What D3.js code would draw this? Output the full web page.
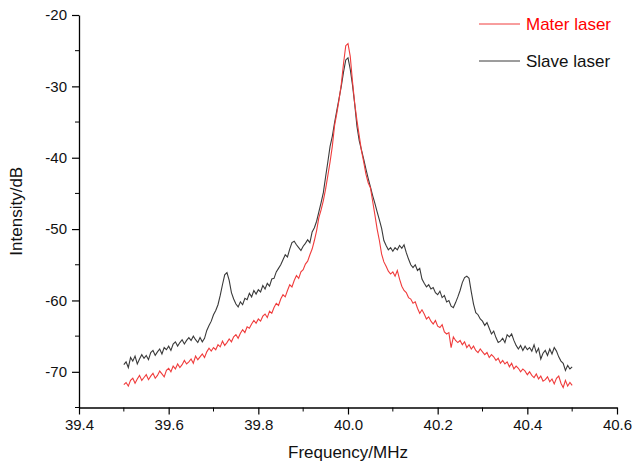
<!DOCTYPE html>
<html>
<head>
<meta charset="utf-8">
<script src="https://cdn.jsdelivr.net/npm/d3@7"></script>
<style>
  body { margin: 0; background: #fff; }
  text { font-family: "Liberation Sans", Arial, sans-serif; }
</style>
</head>
<body>
<div id="chart"></div>
<script>
// frequency grid (MHz)
const freq = [
  39.500, 39.505, 39.510, 39.515, 39.520, 39.525, 39.530, 39.535, 39.540, 39.545,
  39.550, 39.555, 39.560, 39.565, 39.570, 39.575, 39.580, 39.585, 39.590, 39.595,
  39.600, 39.605, 39.610, 39.615, 39.620, 39.625, 39.630, 39.635, 39.640, 39.645,
  39.650, 39.655, 39.660, 39.665, 39.670, 39.675, 39.680, 39.685, 39.690, 39.695,
  39.700, 39.705, 39.710, 39.715, 39.720, 39.725, 39.730, 39.735, 39.740, 39.745,
  39.750, 39.755, 39.760, 39.765, 39.770, 39.775, 39.780, 39.785, 39.790, 39.795,
  39.800, 39.805, 39.810, 39.815, 39.820, 39.825, 39.830, 39.835, 39.840, 39.845,
  39.850, 39.855, 39.860, 39.865, 39.870, 39.875, 39.880, 39.885, 39.890, 39.895,
  39.900, 39.905, 39.910, 39.915, 39.920, 39.925, 39.930, 39.935, 39.940, 39.945,
  39.950, 39.955, 39.960, 39.965, 39.970, 39.975, 39.980, 39.985, 39.990, 39.995,
  40.000,
  40.005, 40.010, 40.015, 40.020, 40.025, 40.030, 40.035, 40.040, 40.045,
  40.050, 40.055, 40.060, 40.065, 40.070, 40.075, 40.080, 40.085, 40.090, 40.095,
  40.100, 40.105, 40.110, 40.115, 40.120, 40.125, 40.130, 40.135, 40.140, 40.145,
  40.150, 40.155, 40.160, 40.165, 40.170, 40.175, 40.180, 40.185, 40.190, 40.195,
  40.200, 40.205, 40.210, 40.215, 40.220, 40.225, 40.230, 40.235, 40.240, 40.245,
  40.250, 40.255, 40.260, 40.265, 40.270, 40.275, 40.280, 40.285, 40.290, 40.295,
  40.300, 40.305, 40.310, 40.315, 40.320, 40.325, 40.330, 40.335, 40.340, 40.345,
  40.350, 40.355, 40.360, 40.365, 40.370, 40.375, 40.380, 40.385, 40.390, 40.395,
  40.400, 40.405, 40.410, 40.415, 40.420, 40.425, 40.430, 40.435, 40.440, 40.445,
  40.450, 40.455, 40.460, 40.465, 40.470, 40.475, 40.480, 40.485, 40.490, 40.495, 40.500
];

// master laser (red), dB
const master = [
  -71.8, -71.5, -72.0, -71.2, -70.9, -71.6, -71.0, -70.5, -71.2, -70.8,
  -70.4, -71.1, -70.6, -70.2, -70.9, -70.5, -69.9, -70.3, -70.7, -69.8,
  -69.5, -70.0, -69.2, -69.6, -68.9, -69.4, -69.0, -68.4, -68.9, -68.6,
  -68.2, -68.8, -67.8, -68.3, -67.9, -67.5, -68.0, -67.2, -66.7, -67.1,
  -66.6, -66.9, -66.2, -66.5, -65.7, -66.3, -65.9, -65.4, -65.8, -65.1,
  -64.8, -65.3, -64.6, -64.1, -64.5, -63.7, -63.9, -63.3, -62.8, -63.2,
  -62.6, -62.9, -62.2, -61.9, -62.4, -61.5, -61.8, -61.0, -60.4, -60.7,
  -59.8, -59.2, -59.5, -58.6, -57.8, -58.1, -57.2, -56.5, -56.9, -56.0,
  -55.7, -54.9, -54.5, -53.6, -52.8, -51.6, -50.2, -48.4, -47.3, -46.0,
  -44.4, -42.5, -40.6, -38.4, -35.5, -33.8, -31.9, -29.7, -26.8, -24.3,
  -24.0,
  -25.8, -29.3, -32.4, -34.8, -36.9, -39.0, -40.6, -42.3, -43.5,
  -44.2, -46.1, -48.0, -50.0, -51.6, -53.5, -54.6, -55.2, -55.9, -56.3,
  -56.0, -56.6, -55.8, -57.0, -58.0, -58.6, -58.9, -59.6, -59.8, -60.4,
  -60.2, -61.1, -61.8, -61.3, -61.9, -62.6, -62.3, -62.9, -63.3, -62.8,
  -63.6, -63.8, -63.4, -64.4, -64.7, -64.5, -66.6, -65.1, -65.6, -65.9,
  -65.6, -66.2, -65.8, -66.6, -66.2, -66.8, -66.4, -67.0, -67.3, -66.8,
  -67.2, -67.6, -67.3, -68.0, -67.6, -67.9, -68.4, -68.1, -68.8, -68.4,
  -68.9, -68.6, -69.3, -68.8, -69.6, -69.2, -69.5, -70.0, -69.6, -69.9,
  -70.4, -70.0, -70.5, -70.8, -70.3, -71.0, -70.6, -71.3, -71.1, -70.7,
  -71.4, -71.0, -71.7, -70.9, -70.6, -71.6, -72.2, -71.2, -72.0, -71.5, -71.9
];

// slave laser (black), dB
const slave = [
  -69.0, -68.6, -69.4, -68.0, -68.5, -67.8, -68.9, -68.2, -67.6, -68.1,
  -67.7, -68.3, -67.3, -67.0, -67.7, -67.2, -66.8, -67.5, -66.6, -66.9,
  -66.4, -67.0, -66.1, -65.8, -66.4, -65.9, -65.5, -66.1, -65.6, -65.2,
  -65.6, -65.0, -65.5, -65.9, -65.2, -65.8, -65.3, -64.2, -63.5, -62.9,
  -62.0, -61.4, -60.6, -59.3, -57.8, -56.4, -56.1, -57.2, -58.9, -59.8,
  -60.5, -60.9, -60.2, -60.6, -59.7, -59.9, -59.0, -59.5, -58.6, -59.1,
  -58.5, -58.8, -57.9, -58.4, -57.6, -58.0, -57.0, -56.9, -56.0, -55.5,
  -55.0, -54.3, -53.6, -53.9, -52.8, -51.9, -51.7, -52.2, -52.6, -53.0,
  -52.4, -52.0, -51.5, -51.9, -50.4, -49.8, -48.9, -47.6, -46.3, -44.9,
  -42.7, -40.6, -38.4, -37.0, -35.1, -33.4, -31.7, -30.0, -28.0, -26.3,
  -26.0,
  -27.6, -29.8, -32.5, -35.6, -37.6, -38.9, -40.2, -41.6, -42.9,
  -44.1, -45.3, -46.4, -47.6, -48.7, -49.9, -51.6, -52.3, -52.9, -52.6,
  -53.1, -52.6, -52.9, -52.3, -52.7, -52.2, -53.3, -54.2, -55.0, -55.4,
  -55.0, -55.8, -55.5, -57.0, -57.6, -58.1, -57.8, -58.4, -58.2, -58.9,
  -59.2, -58.7, -59.6, -59.3, -60.2, -60.0, -60.8, -61.0, -60.3, -59.5,
  -58.6, -57.5, -56.8, -56.6, -56.9, -58.8, -60.5, -61.7, -62.0, -62.6,
  -62.9, -63.5, -63.1, -63.9, -64.7, -64.3, -65.2, -65.9, -65.7, -65.3,
  -65.9, -64.8, -65.1, -64.7, -65.6, -66.3, -66.8, -66.3, -67.0, -66.4,
  -66.9, -66.6, -67.1, -66.2, -67.3, -66.7, -68.2, -67.4, -67.0, -67.7,
  -66.8, -67.5, -66.6, -67.1, -67.9, -68.5, -68.8, -69.8, -69.1, -69.6, -69.3
];

const xTicks = [39.4, 39.6, 39.8, 40.0, 40.2, 40.4, 40.6];
const xMinor = [39.5, 39.7, 39.9, 40.1, 40.3, 40.5];
const yTicks = [-70, -60, -50, -40, -30, -20];
const yMinor = [-75, -65, -55, -45, -35, -25];
const seriesNames = ["Mater laser", "Slave laser"];
const seriesColors = ["#f03c3c", "#3a3a3a"];

const W = 644, H = 468;
const margin = { top: 15, right: 27, bottom: 60.5, left: 79 };
const width = W - margin.left - margin.right,
      height = H - margin.top - margin.bottom;

const svg = d3.select("#chart")
  .append("svg")
  .attr("width", W)
  .attr("height", H)
  .append("g")
  .attr("transform", `translate(${margin.left},${margin.top})`);

const x = d3.scaleLinear().domain([39.4, 40.6]).range([0, width]);
const y = d3.scaleLinear().domain([-75, -20]).range([height, 0]);

// X axis
const gx = svg.append("g")
  .attr("transform", `translate(0,${height})`)
  .call(d3.axisBottom(x).tickValues(xTicks).tickFormat(d3.format(".1f")).tickSizeInner(7).tickSizeOuter(0).tickPadding(5));
gx.append("g").selectAll("line")
  .data(xMinor)
  .join("line")
  .attr("x1", d => x(d)).attr("x2", d => x(d))
  .attr("y1", 0).attr("y2", 4)
  .attr("stroke", "#000");

// Y axis
const gy = svg.append("g")
  .call(d3.axisLeft(y).tickValues(yTicks).tickSizeInner(7).tickSizeOuter(0).tickPadding(5)
    .tickFormat(d => String(d).replace("−", "-")));
gy.append("g").selectAll("line")
  .data(yMinor)
  .join("line")
  .attr("x1", 0).attr("x2", -4)
  .attr("y1", d => y(d)).attr("y2", d => y(d))
  .attr("stroke", "#000");

svg.selectAll(".domain").attr("stroke", "#000").attr("stroke-width", 1.3);
svg.selectAll(".tick line").attr("stroke", "#000").attr("stroke-width", 1.2);
svg.selectAll(".tick text")
  .style("font-family", "'Liberation Sans', Arial, sans-serif")
  .style("font-size", "15px")
  .attr("fill", "#111");

// curves
const line = d3.line()
  .x((d, i) => x(freq[i]))
  .y(d => y(d));

svg.append("path")
  .datum(slave)
  .attr("fill", "none")
  .attr("stroke", seriesColors[1])
  .attr("stroke-width", 1.1)
  .attr("d", line);

svg.append("path")
  .datum(master)
  .attr("fill", "none")
  .attr("stroke", seriesColors[0])
  .attr("stroke-width", 1.1)
  .attr("d", line);

// legend
const legend = svg.append("g");
seriesNames.forEach((name, i) => {
  const ly = 9 + i * 37;
  legend.append("line")
    .attr("x1", 400).attr("x2", 441)
    .attr("y1", ly).attr("y2", ly)
    .attr("stroke", seriesColors[i])
    .attr("stroke-width", 1);
  legend.append("text")
    .attr("x", 447)
    .attr("y", ly)
    .attr("dy", "0.35em")
    .attr("fill", i === 0 ? "#ff0000" : "#111")
    .style("font-size", "17px")
    .text(name);
});

// axis titles
svg.append("text")
  .attr("x", x(40.0))
  .attr("y", height + 50)
  .attr("text-anchor", "middle")
  .style("font-size", "17px")
  .attr("fill", "#111")
  .text("Frequency/MHz");

svg.append("text")
  .attr("transform", `translate(${-57},${y(-47.5)}) rotate(-90)`)
  .attr("text-anchor", "middle")
  .style("font-size", "17px")
  .attr("fill", "#111")
  .text("Intensity/dB");
</script>
</body>
</html>
